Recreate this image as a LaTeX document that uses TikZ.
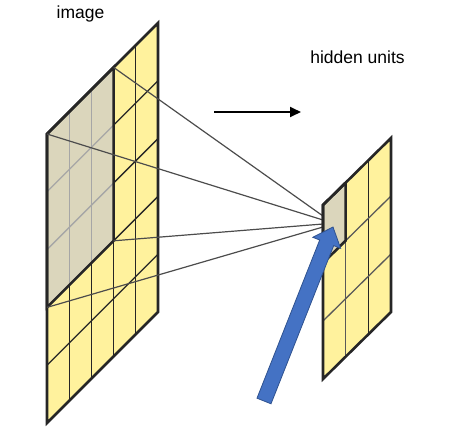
\documentclass[tikz,border=0pt]{standalone}
\usepackage{fontspec}
\setmainfont{Liberation Sans}
\usetikzlibrary{arrows.meta,calc}
\definecolor{cellyellow}{HTML}{FFF29D}
\definecolor{cellgray}{HTML}{DBD6BC}
\definecolor{blueA}{HTML}{4472C4}
\definecolor{blueB}{HTML}{2F528F}
\tikzset{
 border/.style={line width=2.6pt, line join=miter, black!85},
 gridline/.style={line width=1.3pt, black!85},
 softgrid/.style={line width=1.3pt, black!65},
 lightgrid/.style={line width=1.3pt, black!35},
 ray/.style={line width=1.2pt, black!70},
 lbl/.style={font=\fontsize{17.5}{20}\selectfont, inner sep=0pt, anchor=base}
}
\begin{document}
\begin{tikzpicture}[x=1pt,y=-1pt]
\useasboundingbox (0,0) rectangle (456,434);
% image panel corners
\foreach \i in {0,...,5}{
  \foreach \j in {0,...,5}{
    \coordinate (a\i\j) at ({47+22.2*\i},{134-22.2*\i+57.8*\j});
  }
}
\foreach \i in {0,...,3}{
  \foreach \j in {0,...,3}{
    \coordinate (h\i\j) at ({323+22.67*\i},{205-22.33*\i+58*\j});
  }
}
% image panel
\fill[cellyellow] (a00)--(a50)--(a55)--(a05)--cycle;
\fill[cellgray] (a00)--(a30)--(a33)--(a03)--cycle;
\foreach \i in {1,2}{
  \draw[lightgrid] (a\i0)--(a\i3);
  \draw[gridline] (a\i3)--(a\i5);
}
\draw[gridline] (a30)--(a35);
\draw[gridline] (a40)--(a45);
\foreach \j in {1,2}{
  \draw[lightgrid] (a0\j)--(a3\j);
  \draw[gridline] (a3\j)--(a5\j);
}
\foreach \j in {3,4}{
  \draw[gridline] (a0\j)--(a5\j);
}
\draw[border] (a00)--(a30)--(a33)--(a03)--cycle;
\draw[border] (a00)--(a50)--(a55)--(a05)--cycle;
% rays
\coordinate (t1) at (323,216);
\coordinate (t2) at (323,220);
\coordinate (t3) at (323,224);
\coordinate (t4) at (323,227);
\draw[ray] (a30)--(t1);
\draw[ray] (a00)--(t2);
\draw[ray] (a33)--(t3);
\draw[ray] (a03)--(t4);
% hidden panel
\fill[cellyellow] (h00)--(h30)--(h33)--(h03)--cycle;
\fill[cellgray] (h00)--(h10)--(h11)--(h01)--cycle;
\draw[softgrid] (h11)--(h13);
\draw[gridline] (h20)--(h23);
\draw[softgrid] (h11)--(h31);
\draw[softgrid] (h02)--(h32);
\draw[border] (h00)--(h10)--(h11)--(h01)--cycle;
\draw[border] (h00)--(h30)--(h33)--(h03)--cycle;
% blue block arrow
\fill[blueA, draw=blueB, line width=0.8pt, line join=miter]
  (257.0,398.2)--(319.7,240.0)--(312.8,237.3)--(333,227)--(340.6,248.3)--(333.7,245.6)--(271.0,403.8)--cycle;
% direction arrow
\coordinate (da) at (214,112);
\coordinate (db) at (301,112);
\draw[line width=1.8pt, -{Triangle[length=11pt,width=10pt]}] (da)--(db);
% labels
\node[lbl] (img) at (80.5,18) {image};
\node[lbl] (hid) at (357.5,63) {hidden units};
\end{tikzpicture}
\end{document}
